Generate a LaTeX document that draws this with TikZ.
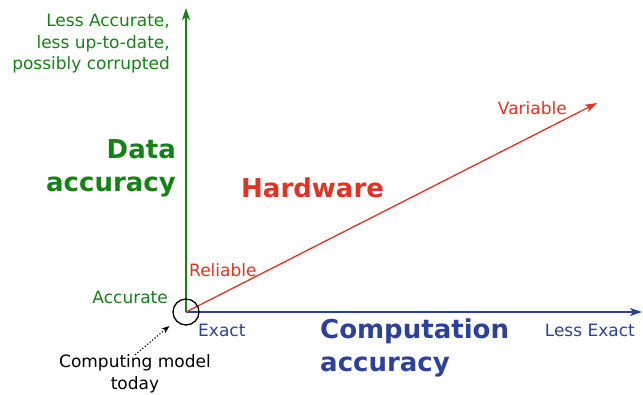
\documentclass[tikz,border=0pt]{standalone}
\usepackage{fontspec}
\setmainfont{DejaVu Sans}
\usetikzlibrary{arrows.meta}
\definecolor{datagreen}{RGB}{20,130,20}
\definecolor{hwred}{RGB}{225,50,35}
\definecolor{compblue}{RGB}{45,65,155}

\begin{document}
\begin{tikzpicture}[x=1pt,y=-1pt,
   axis/.style={line width=1.7pt,-{Stealth[length=12pt,width=8pt,inset=3pt]}},
   lbl/.style={inner sep=0pt,font=\fontsize{17}{21.5}\selectfont},
   big/.style={inner sep=0pt,font=\fontsize{26}{33}\selectfont\bfseries}]
   \useasboundingbox (0,0) rectangle (643,394);

   \coordinate (O)        at (186,312) ; %
   \coordinate (datatop)  at (186,8) ; %
   \coordinate (comptop)  at (642,312) ; %
   \coordinate (hwtop)    at (597,103) ; %

   \draw[axis, datagreen] (O) -- (datatop) ;
   \draw[axis, compblue]  (O) -- (comptop) ;
   \draw[axis, hwred, line width=1.3pt] (O) -- (hwtop) ;
   \node[circle, draw, line width=1.3pt, minimum size=26pt, inner sep=0pt] (today) at (O) {} ; %

   % data axis
   \node[lbl, datagreen, anchor=east, align=right] (lessacc)  at (170,44) {Less Accurate,\\less up-to-date,\\possibly corrupted} ; %
   \node[big, datagreen, anchor=east, align=right] (dataacc)  at (176,168) {Data\\accuracy} ; %
   \node[lbl, datagreen, anchor=base east]         (accurate) at (168,303) {Accurate} ; %

   % computation axis
   \node[lbl, compblue, anchor=base west]          (exact)     at (198,336) {Exact} ; %
   \node[lbl, compblue, anchor=base east]          (lessexact) at (635,336) {Less Exact} ; %
   \node[big, compblue, anchor=west, align=left]   (compacc)   at (320,348) {Computation\\accuracy} ; %

   % hardware axis
   \node[lbl, hwred, anchor=base west]             (reliable) at (189,276) {Reliable} ; %
   \node[lbl, hwred, anchor=base east]             (variable) at (567,114) {Variable} ; %
   \node[big, hwred, anchor=base west]             (hw)       at (241,197) {Hardware} ; %

   \node[lbl, align=center] (model) at (135,374) {Computing model\\today} ; %
   \draw[dotted, line width=1.2pt, -{Stealth[length=8pt,width=6pt]}, shorten >=8pt] (model.north) -- (today) ;
\end{tikzpicture}
\end{document}
